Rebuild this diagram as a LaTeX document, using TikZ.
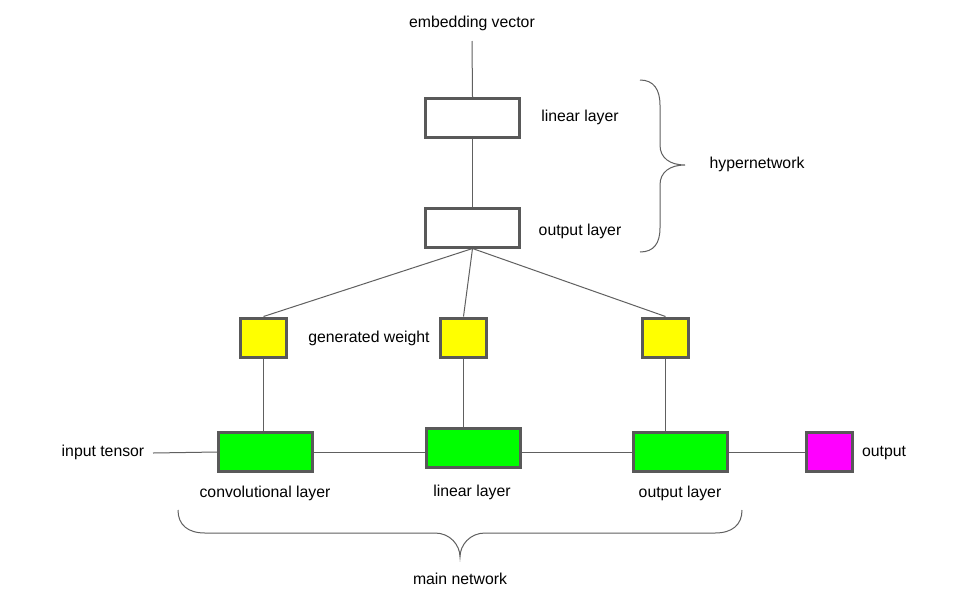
\documentclass[tikz,border=0pt]{standalone}
\usepackage{fontspec}
\setmainfont{Liberation Sans}
\definecolor{bordergray}{HTML}{595959}
\definecolor{linegray}{HTML}{606060}
\definecolor{ygreen}{HTML}{00FF00}
\definecolor{yyellow}{HTML}{FFFF00}
\definecolor{ymag}{HTML}{FF00FF}
\tikzset{
  box/.style={draw=bordergray, line width=3pt, rectangle, inner sep=0pt, minimum width=94pt, minimum height=39pt},
  sbox/.style={box, minimum width=46pt},
  lbl/.style={inner sep=0pt, font=\fontsize{15.8}{18}\selectfont, text=black, yshift=-1.5pt},
  conn/.style={draw=linegray, line width=1pt},
  bracepath/.style={draw=linegray, line width=1pt}
}
\begin{document}
\begin{tikzpicture}[x=1pt,y=-1pt]
\useasboundingbox[fill=white] (0,0) rectangle (960,600);
% hypernetwork boxes
\node[box, fill=white] (hl) at (472.5,118) {};
\node[box, fill=white] (ho) at (472.5,227.5) {};
% generated weights
\node[sbox, fill=yyellow] (yl) at (263.5,337.5) {};
\node[sbox, fill=yyellow] (ym) at (463.5,337.5) {};
\node[sbox, fill=yyellow] (yr) at (665.5,337.5) {};
% main network
\node[box, fill=ygreen] (gc) at (265.5,452) {};
\node[box, fill=ygreen] (gl) at (473,448) {};
\node[box, fill=ygreen] (go) at (680,452) {};
\node[sbox, fill=ymag] (mo) at (829.5,452) {};
% labels
\node[lbl] (emb) at (472,22) {embedding vector};
\node[lbl] (hll) at (580,116) {linear layer};
\node[lbl] (hol) at (580,230) {output layer};
\node[lbl] (hyp) at (757,163) {hypernetwork};
\node[lbl] (gw) at (369,337) {generated weight};
\node[lbl] (inp) at (103,451) {input tensor};
\node[lbl] (outl) at (884,452) {output};
\node[lbl] (gcl) at (265,492) {convolutional layer};
\node[lbl] (gll) at (472,491) {linear layer};
\node[lbl] (gol) at (680,492) {output layer};
\node[lbl] (mn) at (460,577) {main network};
\coordinate (embend) at (472,41);
\coordinate (inpend) at (153,453);
% connectors
\draw[conn] (embend) -- (hl.north);
\draw[conn] (hl.south) -- (ho.north);
\draw[conn] (ho.south) -- (yl.north);
\draw[conn] (ho.south) -- (ym.north);
\draw[conn] (ho.south) -- (yr.north);
\draw[conn] (yl.south) -- (yl.south |- gc.north);
\draw[conn] (ym.south) -- (ym.south |- gl.north);
\draw[conn] (yr.south) -- (yr.south |- go.north);
\draw[conn] (inpend) -- (gc.west);
\draw[conn] (gc.east) -- (gc.east -| gl.west);
\draw[conn] (gl.east |- go.west) -- (go.west);
\draw[conn] (go.east) -- (mo.west);
% braces
\draw[bracepath] (640,80) .. controls (654,80) and (660,90) .. (660,105) -- (660,145) .. controls (660,158) and (670,165) .. (685,165) .. controls (670,165) and (660,172) .. (660,185) -- (660,228) .. controls (660,243) and (654,252) .. (640,252);
\draw[bracepath] (178,510) .. controls (178,525) and (188,533) .. (205,533) -- (435,533) .. controls (450,533) and (460,545) .. (460,557) .. controls (460,545) and (470,533) .. (485,533) -- (715,533) .. controls (732,533) and (742,525) .. (742,510);
% redraw boxes above lines
\node[box, fill=white] at (hl) {};
\node[box, fill=white] at (ho) {};
\end{tikzpicture}
\end{document}
